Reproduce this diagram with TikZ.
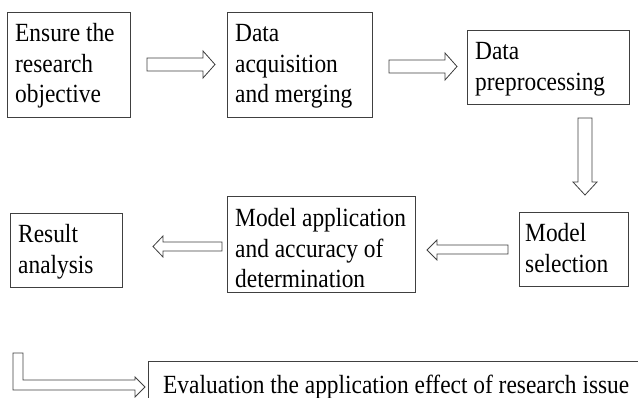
\documentclass[tikz,border=0pt]{standalone}
\usepackage{fontspec}
\usepackage{graphicx}
\setmainfont{Liberation Serif}
\newcommand{\boxtext}[1]{\scalebox{1}[1.12]{\begin{tabular}[t]{@{}l@{}}#1\end{tabular}}}
\tikzset{
  box/.style={draw=black!75, line width=0.9pt, rectangle, anchor=north west, inner sep=0pt},
  lbl/.style={anchor=base west, inner sep=0pt, font=\fontsize{23.4}{27}\selectfont},
  blockarrow/.style={draw=black!75, line width=0.8pt, fill=white, line join=miter}
}
\begin{document}
\begin{tikzpicture}[x=1pt,y=-1pt]
\useasboundingbox (0,0) rectangle (638,398);
\clip (0,0) rectangle (638,398);
% boxes
\node[box, minimum width=123pt, minimum height=105pt] (b1) at (7,12) {};
\node[box, minimum width=145pt, minimum height=105pt] (b2) at (227,12) {};
\node[box, minimum width=162pt, minimum height=74pt] (b3) at (467,30) {};
\node[box, minimum width=109pt, minimum height=74pt] (b4) at (519,212) {};
\node[box, minimum width=188pt, minimum height=96pt] (b5) at (227,196) {};
\node[box, minimum width=112pt, minimum height=74pt] (b6) at (10,213) {};
\node[box, minimum width=560pt, minimum height=90pt] (b7) at (148,361) {};
% texts
\node[lbl] (t1) at (15,42) {\boxtext{Ensure the\\research\\objective}};
\node[lbl] (t2) at (235,42) {\boxtext{Data\\acquisition\\and merging}};
\node[lbl] (t3) at (475,60) {\boxtext{Data\\preprocessing}};
\node[lbl] (t4) at (525,242) {\boxtext{Model\\selection}};
\node[lbl] (t5) at (235,227) {\boxtext{Model application\\and accuracy of\\determination}};
\node[lbl] (t6) at (18,243) {\boxtext{Result\\analysis}};
\node[lbl] (t7) at (163,393) {\boxtext{Evaluation the application effect of research issue}};
% block arrows
\draw[blockarrow] (147,58) -- (203,58) -- (203,51) -- (215,64.5) -- (203,78) -- (203,71) -- (147,71) -- cycle;
\draw[blockarrow] (389,60) -- (445,60) -- (445,53) -- (457,66.5) -- (445,80) -- (445,73) -- (389,73) -- cycle;
\draw[blockarrow] (578,118) -- (592,118) -- (592,182) -- (597,182) -- (585,195) -- (573,182) -- (578,182) -- cycle;
\draw[blockarrow] (508,245) -- (437,245) -- (437,240) -- (427,250) -- (437,260) -- (437,254) -- (508,254) -- cycle;
\draw[blockarrow] (222,242) -- (163,242) -- (163,236) -- (153,246.5) -- (163,257) -- (163,251) -- (222,251) -- cycle;
\draw[blockarrow] (13,353) -- (23,353) -- (23,380) -- (135,380) -- (135,377) -- (145,387) -- (135,397) -- (135,390) -- (13,390) -- cycle;
\end{tikzpicture}
\end{document}
